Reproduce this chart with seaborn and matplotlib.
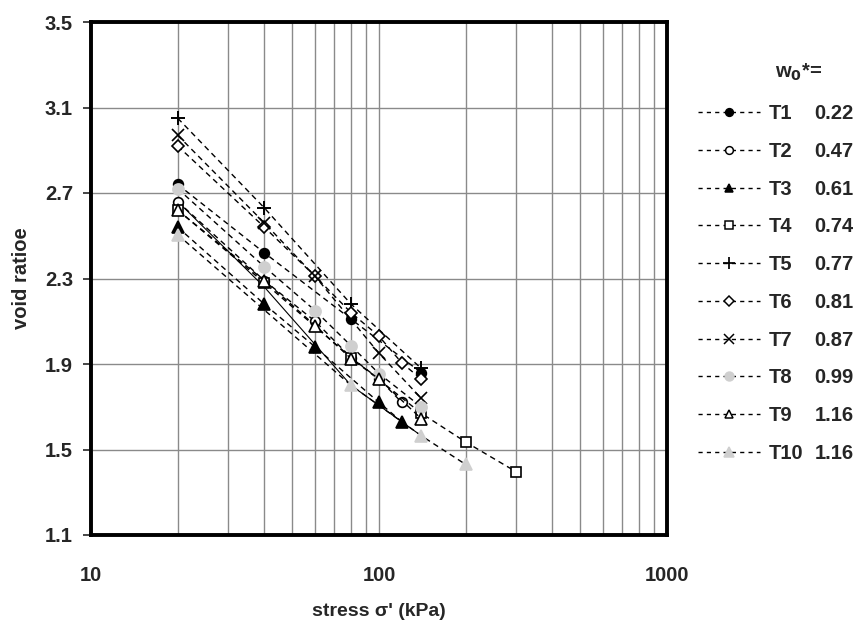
import matplotlib
matplotlib.use("Agg")
import matplotlib.pyplot as plt
import seaborn as sns
import numpy as np
from matplotlib.lines import Line2D
from matplotlib.ticker import FixedLocator, NullFormatter, LogLocator

# ---- data ----
series_names = ["T1", "T2", "T3", "T4", "T5", "T6", "T7", "T8", "T9", "T10"]
w0_values = ["0.22", "0.47", "0.61", "0.74", "0.77", "0.81", "0.87", "0.99", "1.16", "1.16"]

t1_x = [20, 40, 80, 140];                 t1_y = [2.74, 2.42, 2.11, 1.86]
t2_x = [20, 40, 60, 80, 100, 120];        t2_y = [2.66, 2.29, 2.10, 1.93, 1.83, 1.72]
t3_x = [20, 40, 60, 100, 120];            t3_y = [2.54, 2.18, 1.98, 1.72, 1.63]
t4_x = [20, 40, 80, 140, 200, 300];       t4_y = [2.62, 2.28, 1.93, 1.67, 1.535, 1.395]
t5_x = [20, 40, 80, 140];                 t5_y = [3.05, 2.63, 2.18, 1.88]
t6_x = [20, 40, 60, 80, 100, 120, 140];   t6_y = [2.92, 2.54, 2.31, 2.14, 2.03, 1.905, 1.83]
t7_x = [20, 40, 60, 100, 140];            t7_y = [2.97, 2.56, 2.31, 1.95, 1.74]
t8_x = [20, 40, 60, 80, 100, 140];        t8_y = [2.72, 2.355, 2.15, 1.985, 1.855, 1.70]
t9_x = [20, 40, 60, 80, 100, 140];        t9_y = [2.62, 2.29, 2.08, 1.925, 1.83, 1.645]
t10_x = [20, 80, 140, 200];               t10_y = [2.505, 1.80, 1.565, 1.43]

# solid reference line visible in the chart
ref_x = [20, 40, 80, 140]
ref_y = [2.66, 2.26, 1.80, 1.565]

y_ticks = [1.1, 1.5, 1.9, 2.3, 2.7, 3.1, 3.5]
x_ticks = [10, 100, 1000]

# ---- styling ----
sns.set_style("white")
plt.rcParams["font.family"] = ["Liberation Sans", "DejaVu Sans"]
plt.rcParams["font.weight"] = "bold"

LIGHT = "#cfcfcf"
styles = [
    dict(marker="o", mfc="k", mec="k", ms=7),
    dict(marker="o", mfc="white", mec="k", ms=7),
    dict(marker="^", mfc="k", mec="k", ms=8),
    dict(marker="s", mfc="white", mec="k", ms=7),
    dict(marker="+", mfc="k", mec="k", ms=10, mew=1.4),
    dict(marker="D", mfc="white", mec="k", ms=6),
    dict(marker="x", mfc="k", mec="k", ms=9, mew=1.2),
    dict(marker="o", mfc=LIGHT, mec=LIGHT, ms=8),
    dict(marker="^", mfc="white", mec="k", ms=8),
    dict(marker="^", mfc=LIGHT, mec=LIGHT, ms=9),
]
xs = [t1_x, t2_x, t3_x, t4_x, t5_x, t6_x, t7_x, t8_x, t9_x, t10_x]
ys = [t1_y, t2_y, t3_y, t4_y, t5_y, t6_y, t7_y, t8_y, t9_y, t10_y]

fig = plt.figure(figsize=(8.6, 6.25), dpi=100)
ax = fig.add_axes([91 / 860, 1 - 535 / 625, (667 - 91) / 860, (535 - 22) / 625])

ax.set_xscale("log")
ax.set_xlim(10, 1000)
ax.set_ylim(1.1, 3.5)

ax.grid(True, which="major", axis="both", color="#8a8a8a", lw=1.0)
ax.grid(True, which="minor", axis="x", color="#8a8a8a", lw=1.0)
ax.set_axisbelow(True)

sns.lineplot(x=ref_x, y=ref_y, ax=ax, color="k", lw=0.8, linestyle="-",
             estimator=None, sort=False, legend=False)

handles = []
for name, x, y, st in zip(series_names, xs, ys, styles):
    sns.lineplot(x=x, y=y, ax=ax, color="k", lw=1.0, linestyle=(0, (4, 3)),
                 marker=st["marker"], markersize=st["ms"],
                 markerfacecolor=st["mfc"], markeredgecolor=st["mec"],
                 markeredgewidth=st.get("mew", 1.2),
                 estimator=None, sort=False, legend=False, zorder=3)
    handles.append(Line2D([], [], color="k", lw=1.0, linestyle=(0, (3, 3)),
                          marker=st["marker"], markersize=st["ms"] * 0.8,
                          markerfacecolor=st["mfc"], markeredgecolor=st["mec"],
                          markeredgewidth=st.get("mew", 1.2) * 0.9))

# axes ticks and spines
ax.yaxis.set_major_locator(FixedLocator(y_ticks))
ax.set_yticklabels([f"{v:.1f}" for v in y_ticks])
ax.xaxis.set_major_locator(FixedLocator(x_ticks))
ax.set_xticklabels([str(v) for v in x_ticks])
ax.xaxis.set_minor_locator(LogLocator(base=10, subs=np.arange(2, 10)))
ax.xaxis.set_minor_formatter(NullFormatter())
ax.tick_params(axis="x", which="minor", length=0)
ax.tick_params(axis="x", which="major", direction="out", length=5, width=1.2,
               pad=17, labelsize=14.5)
ax.tick_params(axis="y", which="major", direction="out", length=6, width=1.2,
               pad=7, labelsize=14.5, left=True)
for lab in ax.get_xticklabels() + ax.get_yticklabels():
    lab.set_fontweight("bold")
for sp in ax.spines.values():
    sp.set_visible(True)
    sp.set_color("k")
    sp.set_linewidth(2.8)

ax.set_xlabel("stress σ' (kPa)", fontsize=14, fontweight="bold", labelpad=13)
ax.set_ylabel("void ratioe", fontsize=14.5, fontweight="bold", labelpad=10)
ax.set_title("")

# legend (series names) and matching values column
LEG_FS = 14.5
leg1 = fig.legend(handles, series_names, loc="upper left",
                  bbox_to_anchor=(0.802, 0.846), frameon=False,
                  handlelength=3.1, handletextpad=0.4, labelspacing=0.93,
                  prop=dict(size=LEG_FS, weight="bold"), borderaxespad=0)
blank = [Line2D([], [], lw=0, marker=None) for _ in w0_values]
leg2 = fig.legend(blank, w0_values, loc="upper left",
                  bbox_to_anchor=(0.938, 0.846), frameon=False,
                  handlelength=0, handletextpad=0, labelspacing=0.93,
                  prop=dict(size=LEG_FS, weight="bold"), borderaxespad=0)
fig.text(0.901, 0.885, r"w$_\mathbf{0}$*=", fontsize=LEG_FS, fontweight="bold",
         ha="left", va="center")

fig.savefig("out.png", dpi=100)
